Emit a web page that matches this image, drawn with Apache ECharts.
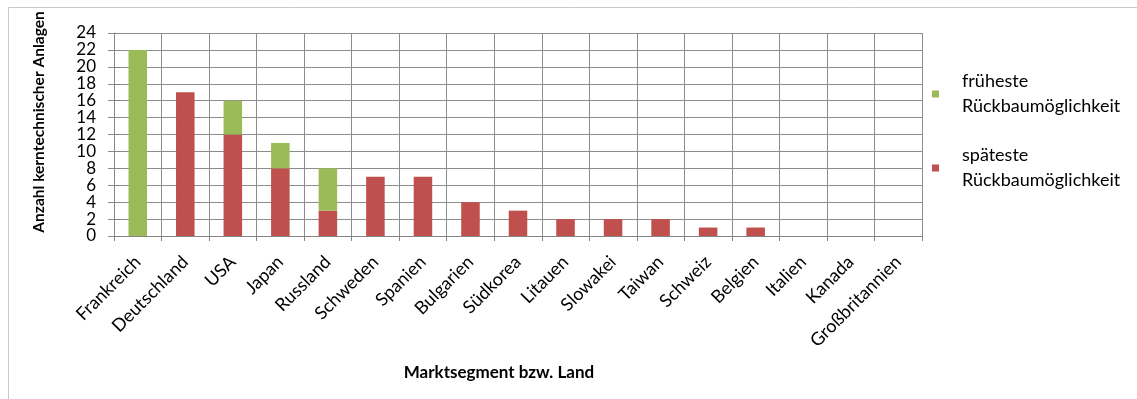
<!DOCTYPE html>
<html>
<head>
<meta charset="utf-8">
<script src="https://cdn.jsdelivr.net/npm/echarts@6/dist/echarts.min.js"></script>
<style>
html,body{margin:0;padding:0;background:#fff;}
#chart{width:1137px;height:399px;}
</style>
</head>
<body>
<div id="chart"></div>
<script>
const categories = ['Frankreich','Deutschland','USA','Japan','Russland','Schweden','Spanien','Bulgarien','Südkorea','Litauen','Slowakei','Taiwan','Schweiz','Belgien','Italien','Kanada','Großbritannien'];
const spaeteste = [0,17,12,8,3,7,7,4,3,2,2,2,1,1,0,0,0];
const fruehesteExtra = [22,0,4,3,5,0,0,0,0,0,0,0,0,0,0,0,0];
const yTicks = {min:0, max:24, interval:2};
const nameFrueh = 'früheste\nRückbaumöglichkeit';
const nameSpaet = 'späteste\nRückbaumöglichkeit';
const yTitle = 'Anzahl kerntechnischer Anlagen';
const xTitle = 'Marktsegment bzw. Land';

const FONT = 'Lato';
const chart = echarts.init(document.getElementById('chart'), null, {renderer:'canvas'});
chart.setOption({
  animation:false,
  backgroundColor:'#fff',
  textStyle:{fontFamily:FONT},
  graphic:[
    {type:'rect', shape:{x:8.5,y:7.5,width:1140,height:400}, style:{fill:'none', stroke:'#c8c8c8', lineWidth:1}, silent:true},
    {type:'text', x:39, y:122, rotation:Math.PI/2,
     style:{text:yTitle, fontFamily:FONT, fontSize:15.5, fontWeight:'bold', fill:'#000', align:'center', verticalAlign:'middle'}},
    {type:'text', x:499, y:373,
     style:{text:xTitle, fontFamily:FONT, fontSize:17, fontWeight:'bold', fill:'#000', align:'center', verticalAlign:'middle'}}
  ],
  grid:{left:114, right:215, top:33, bottom:163, containLabel:false},
  legend:{
    orient:'vertical', left:932, top:69, padding:0, itemWidth:7, itemHeight:7, itemGap:24,
    icon:'rect',
    data:[nameFrueh, nameSpaet],
    textStyle:{fontFamily:FONT, fontSize:18, color:'#000', lineHeight:25, padding:[0,0,0,18]}
  },
  xAxis:{
    type:'category', data:categories,
    axisLine:{lineStyle:{color:'#868686', width:1}},
    axisTick:{show:true, length:5, lineStyle:{color:'#868686'}},
    axisLabel:{rotate:45, interval:0, margin:23, fontFamily:FONT, fontSize:18, color:'#000'},
    splitLine:{show:true, interval:0, lineStyle:{color:'#8c8c8c', width:1}}
  },
  yAxis:[{
    type:'value', min:yTicks.min, max:yTicks.max, interval:yTicks.interval,
    axisLine:{show:true, lineStyle:{color:'#868686', width:1}},
    axisTick:{show:true, length:6, lineStyle:{color:'#868686'}},
    axisLabel:{margin:18, fontFamily:FONT, fontSize:17, color:'#000'},
    splitLine:{show:true, lineStyle:{color:'#8c8c8c', width:1}}
  },{
    type:'value', min:yTicks.min, max:yTicks.max, interval:yTicks.interval, position:'left',
    axisLine:{show:false},
    axisTick:{show:true, inside:true, length:6, lineStyle:{color:'#868686'}},
    axisLabel:{show:false},
    splitLine:{show:false}
  }],
  series:[
    {name:nameSpaet, type:'bar', stack:'a', data:spaeteste, barWidth:'39%',
     itemStyle:{color:'#C0504D', borderWidth:0}},
    {name:nameFrueh, type:'bar', stack:'a', data:fruehesteExtra, barWidth:'39%',
     itemStyle:{color:'#9BBB59', borderWidth:0}}
  ]
});
</script>
</body>
</html>
